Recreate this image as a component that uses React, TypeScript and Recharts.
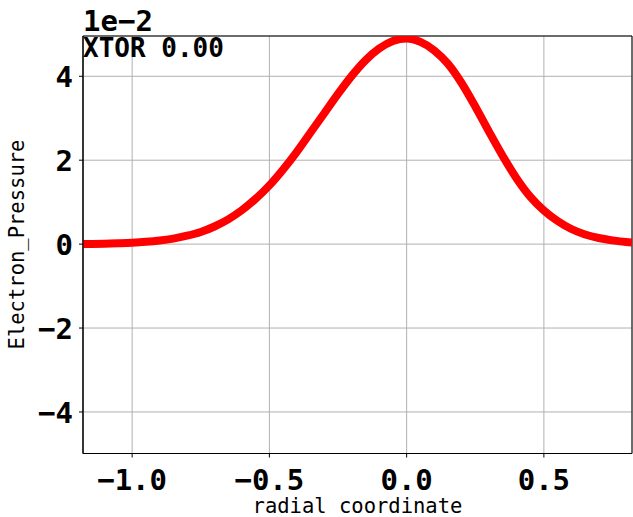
import React from "react";
import {
  LineChart,
  Line,
  XAxis,
  YAxis,
  CartesianGrid,
  ReferenceArea,
  Customized,
} from "recharts";

const radialCoordinate = [
  -1.179, -1.1, -1.05, -1.0, -0.95, -0.9, -0.85, -0.8, -0.75, -0.7, -0.65, -0.6,
  -0.55, -0.5, -0.45, -0.4, -0.35, -0.3, -0.25, -0.2, -0.15, -0.1, -0.05, 0.0,
  0.05, 0.1, 0.15, 0.2, 0.25, 0.3, 0.35, 0.4, 0.45, 0.5, 0.55, 0.6, 0.65, 0.7,
  0.75, 0.8, 0.821,
];
const electronPressure = [
  0.0, 0.01, 0.02, 0.033, 0.054, 0.085, 0.132, 0.2, 0.29, 0.42, 0.59, 0.81,
  1.08, 1.4, 1.78, 2.2, 2.66, 3.12, 3.58, 4.01, 4.38, 4.66, 4.84, 4.9, 4.82,
  4.62, 4.3, 3.84, 3.28, 2.68, 2.1, 1.57, 1.13, 0.8, 0.55, 0.36, 0.23, 0.145,
  0.09, 0.05, 0.04,
];
const xTicks = [-1.0, -0.5, 0.0, 0.5];
const yTicks = [-4, -2, 0, 2, 4];
const xDomain = [-1.179, 0.821];
const yDomain = [-4.99, 4.96];
const scaleLabel = "1e\u22122";
const annotation = "XTOR 0.00";
const xLabel = "radial coordinate";
const yLabel = "Electron_Pressure";

const data = radialCoordinate.map((x, i) => ({ x, y: electronPressure[i] }));

const FONT = "'DejaVu Sans Mono', monospace";

const fmt = (v: number, digits: number) => {
  const s = Math.abs(v).toFixed(digits);
  return v < 0 ? "\u2212" + s : s;
};

const XTick = (props: any) => {
  const { x, y, payload } = props;
  return (
    <text
      x={x}
      y={y + 30}
      textAnchor="middle"
      fontFamily={FONT}
      fontWeight="bold"
      fontSize={29}
      fill="#000"
    >
      {fmt(payload.value, 1)}
    </text>
  );
};

const YTick = (props: any) => {
  const { x, y, payload } = props;
  return (
    <text
      x={x - 4}
      y={y + 11}
      textAnchor="end"
      fontFamily={FONT}
      fontWeight="bold"
      fontSize={29}
      fill="#000"
    >
      {fmt(payload.value, 0)}
    </text>
  );
};

const Texts = () => (
  <g>
    <text
      x={83}
      y={31}
      fontFamily={FONT}
      fontWeight="bold"
      fontSize={29}
      fill="#000"
    >
      {scaleLabel}
    </text>
    <text
      x={83}
      y={57}
      fontFamily={FONT}
      fontWeight="bold"
      fontSize={26}
      fill="#000"
    >
      {annotation}
    </text>
    <text
      x={357.5}
      y={513}
      textAnchor="middle"
      fontFamily={FONT}
      fontSize={20.5}
      fill="#000"
    >
      {xLabel}
    </text>
    <text
      x={24}
      y={244.5}
      textAnchor="middle"
      transform="rotate(-90 24 244.5)"
      fontFamily={FONT}
      fontSize={20.5}
      fill="#000"
    >
      {yLabel}
    </text>
  </g>
);

export default function App() {
  return (
    <div style={{ position: "absolute", left: 0, top: 0, background: "#fff" }}>
      <LineChart
        width={633}
        height={517}
        data={data}
        margin={{ top: 36, right: 1, left: 0, bottom: 0 }}
      >
        <CartesianGrid stroke="#b0b0b0" strokeWidth={1} />
        <XAxis
          dataKey="x"
          type="number"
          domain={xDomain}
          allowDataOverflow
          ticks={xTicks}
          interval={0}
          height={63.5}
          tickSize={4}
          axisLine={{ stroke: "#000", strokeWidth: 1 }}
          tickLine={{ stroke: "#000", strokeWidth: 1 }}
          tick={<XTick />}
        />
        <YAxis
          type="number"
          domain={yDomain}
          allowDataOverflow
          ticks={yTicks}
          interval={0}
          width={83}
          tickSize={4}
          axisLine={{ stroke: "#000", strokeWidth: 1 }}
          tickLine={{ stroke: "#000", strokeWidth: 1 }}
          tick={<YTick />}
        />
        <Line
          dataKey="y"
          type="monotone"
          stroke="#ff0000"
          strokeWidth={8}
          dot={false}
          isAnimationActive={false}
        />
        <ReferenceArea
          x1={xDomain[0]}
          x2={xDomain[1]}
          y1={yDomain[0]}
          y2={yDomain[1]}
          fill="none"
          fillOpacity={0}
          stroke="#000"
          strokeWidth={1}
          ifOverflow="visible"
        />
        <Customized component={Texts} />
      </LineChart>
    </div>
  );
}
